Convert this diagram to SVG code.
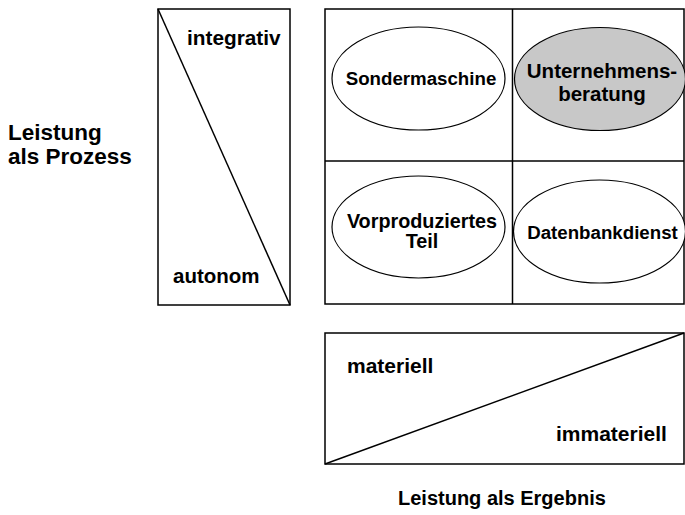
<svg xmlns="http://www.w3.org/2000/svg" width="685" height="515" viewBox="0 0 685 515">
<style>
.ln{fill:none;stroke:#000;stroke-width:1.5}
.el{fill:#fff;stroke:#000;stroke-width:1.2}
.gr{fill:#c8c8c8;stroke:#000;stroke-width:1.2}
text{font-family:"Liberation Sans",Arial,sans-serif;font-weight:bold;fill:#000}
.m{text-anchor:middle}
</style>
<rect width="685" height="515" fill="#fff"/>
<g id="prozess-box">
<rect class="ln" x="158" y="9" width="132" height="296"/>
<line class="ln" x1="158" y1="9" x2="290" y2="305"/>
<text x="187" y="45" font-size="20.8">integrativ</text>
<text x="173" y="283" font-size="20.5">autonom</text>
</g>
<g id="matrix">
<rect class="ln" x="325" y="9" width="359" height="295"/>
<line class="ln" x1="512.5" y1="9" x2="512.5" y2="304"/>
<line class="ln" x1="325" y1="161" x2="684" y2="161"/>
</g>
<g id="sondermaschine">
<ellipse class="el" cx="418.5" cy="78.5" rx="86.5" ry="51.5"/>
<text class="m" x="421" y="85" font-size="18.7">Sondermaschine</text>
</g>
<g id="unternehmensberatung">
<ellipse class="gr" cx="600" cy="79" rx="85.5" ry="51.5"/>
<text class="m" x="602" y="78" font-size="20.5">Unternehmens-</text>
<text class="m" x="602" y="101" font-size="20.5">beratung</text>
</g>
<g id="vorproduziertes-teil">
<ellipse class="el" cx="418.5" cy="227" rx="86.5" ry="51"/>
<text class="m" x="422" y="228" font-size="19.8">Vorproduziertes</text>
<text class="m" x="422" y="248" font-size="19.8">Teil</text>
</g>
<g id="datenbankdienst">
<ellipse class="el" cx="599.5" cy="231.5" rx="86" ry="51.5"/>
<text class="m" x="602.5" y="239" font-size="18.7">Datenbankdienst</text>
</g>
<g id="ergebnis-box">
<rect class="ln" x="325" y="333" width="359" height="131"/>
<line class="ln" x1="325" y1="464" x2="684" y2="333"/>
<text x="347" y="373" font-size="21">materiell</text>
<text x="556" y="441" font-size="21">immateriell</text>
</g>
<g id="labels">
<text x="8" y="140" font-size="22.5">Leistung</text>
<text x="8" y="164" font-size="22.5">als Prozess</text>
<text x="398" y="505" font-size="20">Leistung als Ergebnis</text>
</g>
</svg>
